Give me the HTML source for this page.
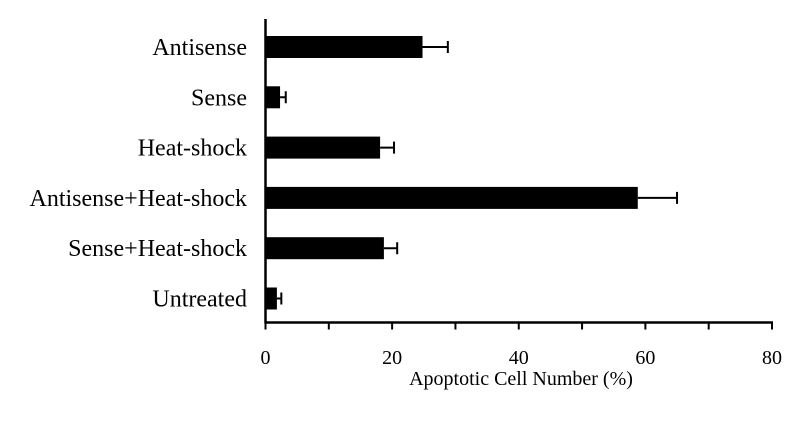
<!DOCTYPE html>
<html><head><meta charset="utf-8"><style>
html,body{margin:0;padding:0;background:#fff;}
svg{display:block;font-family:"Liberation Serif",serif;}
</style></head><body>
<svg id="chart" width="800" height="438"></svg>
<script>
const categories = ["Antisense","Sense","Heat-shock","Antisense+Heat-shock","Sense+Heat-shock","Untreated"];
const values = [24.8, 2.3, 18.1, 58.8, 18.7, 1.8];
const errors = [4.0, 0.9, 2.2, 6.2, 2.1, 0.7];
const tickValues = [0,10,20,30,40,50,60,70,80];
const tickLabels = ["0","","20","","40","","60","","80"];
const NS="http://www.w3.org/2000/svg";
const svg=document.getElementById('chart');
const x0=265.5, xScale=(772-265.5)/80;
const x=v=>x0+v*xScale;
const yTop=19, axisY=322.5, band=50.3, firstCenter=47;
const y=i=>firstCenter+i*band;
function mk(tag,attrs){const e=document.createElementNS(NS,tag);for(const k in attrs)e.setAttribute(k,attrs[k]);svg.appendChild(e);return e;}
categories.forEach((c,i)=>{
  const b=mk('rect',{x:x(0),y:y(i)-11,width:x(values[i])-x(0),height:22,fill:'#000'});
  
  
  const e=mk('path',{d:`M${x(values[i])},${y(i)} H${x(values[i]+errors[i])} M${x(values[i]+errors[i])},${y(i)-6} V${y(i)+6}`,stroke:'#000','stroke-width':2,fill:'none'});
  
  
  const t=mk('text',{x:247,y:y(i)+8,'text-anchor':'end','font-size':24});
  t.textContent=c;
  
  
});
const ya=mk('line',{x1:x0,y1:yTop,x2:x0,y2:axisY+1,stroke:'#000','stroke-width':2.5});


const xa=mk('line',{x1:x0-1,y1:axisY,x2:x(80)+1,y2:axisY,stroke:'#000','stroke-width':2.5});


tickValues.forEach((v,i)=>{
  const tk=mk('line',{x1:x(v),y1:axisY,x2:x(v),y2:axisY+7,stroke:'#000','stroke-width':2});
  
  
  if(tickLabels[i]){
    const t=mk('text',{x:x(v),y:364,'text-anchor':'middle','font-size':20});
    t.textContent=tickLabels[i];
    
    
  }
});
const title=mk('text',{x:521,y:385,'text-anchor':'middle','font-size':20});
title.textContent="Apoptotic Cell Number (%)";


</script>
</body></html>
